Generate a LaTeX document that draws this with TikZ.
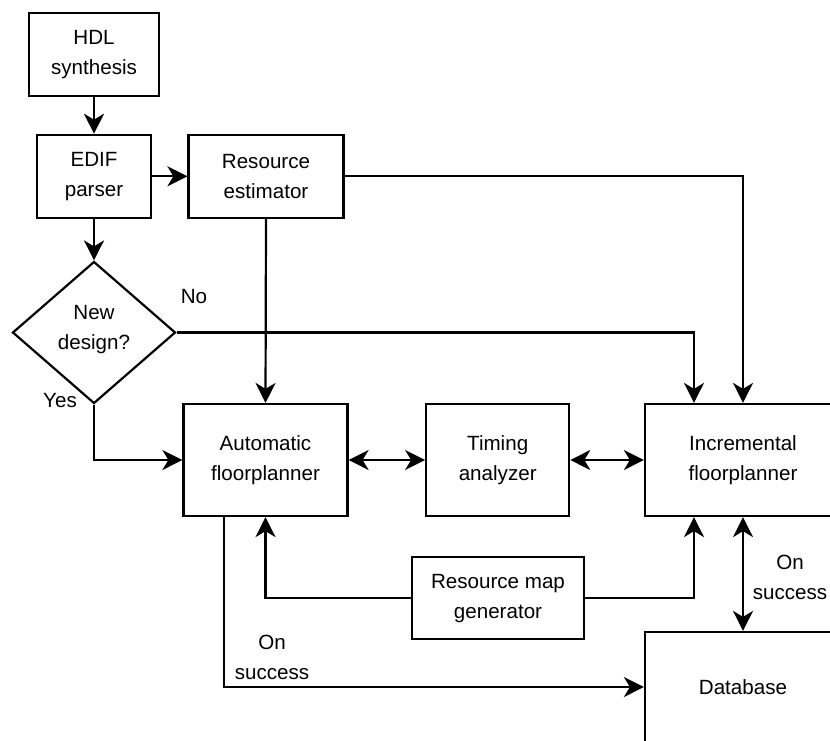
\documentclass[tikz,border=0pt]{standalone}
\usepackage{fontspec}
\setmainfont{Liberation Sans}
\usetikzlibrary{arrows.meta,shapes.geometric}
\begin{document}
\begin{tikzpicture}[x=1pt,y=-1pt,
  every node/.style={font=\fontsize{20.6}{30}\selectfont, align=center, inner sep=0pt},
  blk/.style={draw=black, line width=2.2pt, fill=white, rectangle},
  conn/.style={line width=2.2pt, -{Stealth[length=20pt 0,width=20pt 0,inset=6pt 0]}},
  biconn/.style={line width=2.2pt, {Stealth[length=20pt 0,width=20pt 0,inset=6pt 0]}-{Stealth[length=20pt 0,width=20pt 0,inset=6pt 0]}}]
\useasboundingbox (0,0) rectangle (830,740);
\fill[white] (0,0) rectangle (830,740);
\clip (0,0) rectangle (830,740);

% blocks
\node[blk, minimum width=130pt, minimum height=83pt] (hdl) at (94,54.7) {HDL\\synthesis};
\node[blk, minimum width=114pt, minimum height=83pt] (edif) at (94,176.3) {EDIF\\parser};
\node[blk, minimum width=155pt, minimum height=83pt] (est) at (266,176.3) {Resource\\estimator};
\node[draw=black, line width=2.2pt, diamond, minimum width=163pt, minimum height=142pt] (dec) at (94,332.5) {};
\node (dectext) at (94,330) {New\\design?};
\node[blk, minimum width=164pt, minimum height=112pt] (auto) at (265.5,460) {Automatic\\floorplanner};
\node[blk, minimum width=143pt, minimum height=112pt] (tim) at (497.7,460) {Timing\\analyzer};
\node[blk, minimum width=196pt, minimum height=112pt] (incr) at (743,460) {Incremental\\floorplanner};
\node[blk, minimum width=172pt, minimum height=82pt] (rmap) at (498,598.3) {Resource map\\generator};
\node[blk, minimum width=196pt, minimum height=110pt] (db) at (743,687) {Database};

% connectors
\draw[conn] (hdl.south) -- (edif.north);
\draw[conn] (edif.east) -- (est.west);
\draw[conn] (edif.south) -- (dec.north);
\draw[conn] (est.east) -| (incr.north);
\draw[conn] (dec.east) -| ([xshift=-49pt]incr.north);
\draw[conn] (est.south) -- (auto.north);
\draw[conn] (dec.south) |- (auto.west);
\draw[biconn] (auto.east) -- (tim.west);
\draw[biconn] (tim.east) -- (incr.west);
\draw[biconn] (incr.south) -- (db.north);
\draw[conn] (rmap.west) -| (auto.south);
\draw[conn] (rmap.east) -| ([xshift=-49pt]incr.south);
\draw[conn] ([xshift=-41.5pt]auto.south) |- (db.west);

% branch labels
\node (no) at (194,297) {No};
\node (yes) at (60,401) {Yes};
\node (ok1) at (272,657.5) {On\\success};
\node (ok2) at (790,577.5) {On\\success};
\end{tikzpicture}
\end{document}
